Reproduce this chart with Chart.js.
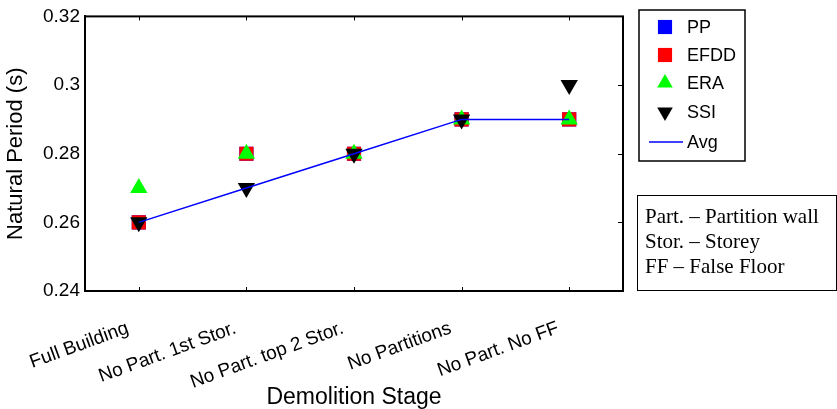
<!DOCTYPE html>
<html>
<head>
<meta charset="utf-8">
<script src="https://cdn.jsdelivr.net/npm/chart.js@4/dist/chart.umd.min.js"></script>
<style>
  html, body { margin: 0; padding: 0; background: #fff; }
  #wrap { width: 837px; height: 409px; }
</style>
</head>
<body>
<div id="wrap"><canvas id="chart" width="837" height="409"></canvas></div>
<script>
const stages = ["Full Building", "No Part. 1st Stor.", "No Part. top 2 Stor.", "No Partitions", "No Part. No FF"];
const ppValues = [0.26, 0.28, 0.28, 0.29, 0.29];
const efddValues = [0.26, 0.28, 0.28, 0.29, 0.29];
const eraValues = [0.27, 0.28, 0.28, 0.29, 0.29];
const ssiValues = [0.26, 0.27, 0.28, 0.29, 0.30];
const avgValues = [0.26, 0.27, 0.28, 0.29, 0.29];
const notes = ["Part. \u2013 Partition wall", "Stor. \u2013 Storey", "FF \u2013 False Floor"];

const sans = 'Arial, "Liberation Sans", sans-serif';
const serif = '"Times New Roman", "Liberation Serif", serif';

const markerSet = (label, data, color, style, rotation, order) => ({
  label,
  data,
  showLine: false,
  pointStyle: style,
  pointRotation: rotation,
  pointRadius: 10,
  pointBackgroundColor: color,
  pointBorderWidth: 0,
  borderColor: color,
  backgroundColor: color,
  order,
});

// box around the plot, inward ticks, legend and note box
const framePlugin = {
  id: "frame",
  afterDraw(chart) {
    const { ctx, chartArea: a, scales } = chart;
    ctx.save();
    ctx.strokeStyle = "#000";
    ctx.lineWidth = 2;
    ctx.strokeRect(a.left, a.top, a.right - a.left, a.bottom - a.top);

    ctx.lineWidth = 1;
    ctx.beginPath();
    stages.forEach((s, i) => {
      const x = Math.round(scales.x.getPixelForValue(i)) + 0.5;
      ctx.moveTo(x, a.bottom);
      ctx.lineTo(x, a.bottom - 4);
      ctx.moveTo(x, a.top);
      ctx.lineTo(x, a.top + 4);
    });
    scales.y.ticks.forEach((t) => {
      const y = Math.round(scales.y.getPixelForValue(t.value)) + 0.5;
      ctx.moveTo(a.right, y);
      ctx.lineTo(a.right - 5, y);
    });
    ctx.stroke();

    // legend
    const lx = 639, ly = 10, lw = 106, lh = 151;
    ctx.lineWidth = 1.5;
    ctx.strokeRect(lx, ly, lw, lh);
    ctx.font = "18px " + sans;
    ctx.textBaseline = "middle";
    ctx.textAlign = "left";
    const rows = [27, 55, 83, 112, 142];
    chart.data.datasets.forEach((ds, i) => {
      const y = rows[i];
      if (ds.showLine === false) {
        ctx.fillStyle = ds.pointBackgroundColor;
        Chart.helpers.drawPoint(ctx, {
          pointStyle: ds.pointStyle,
          rotation: ds.pointRotation,
          radius: ds.pointStyle === "rect" ? 10 : 9,
          borderWidth: 0,
        }, 665, y);
      } else {
        ctx.strokeStyle = ds.borderColor;
        ctx.lineWidth = 1.5;
        ctx.beginPath();
        ctx.moveTo(649, y);
        ctx.lineTo(683, y);
        ctx.stroke();
      }
      ctx.fillStyle = "#000";
      ctx.fillText(ds.label, 687, y + 1);
    });

    // abbreviation note
    ctx.strokeStyle = "#000";
    ctx.lineWidth = 1;
    ctx.strokeRect(637.5, 195.5, 199, 95);
    ctx.font = "21px " + serif;
    ctx.textBaseline = "alphabetic";
    ctx.fillStyle = "#000";
    notes.forEach((n, i) => ctx.fillText(n, 645, 223 + i * 25));
    ctx.restore();
  },
};

new Chart(document.getElementById("chart"), {
  type: "line",
  data: {
    labels: stages,
    datasets: [
      markerSet("PP", ppValues, "#0000ff", "rect", 0, 5),
      markerSet("EFDD", efddValues, "#ff0000", "rect", 0, 4),
      markerSet("ERA", eraValues, "#00ff00", "triangle", 0, 3),
      markerSet("SSI", ssiValues, "#000000", "triangle", 180, 2),
      {
        label: "Avg",
        data: avgValues,
        borderColor: "#0000ff",
        backgroundColor: "#0000ff",
        borderWidth: 1.5,
        pointRadius: 0,
        tension: 0,
        order: 1,
      },
    ],
  },
  options: {
    responsive: false,
    animation: false,
    layout: { padding: { left: 0, top: 11, right: 214, bottom: 0 } },
    plugins: { legend: { display: false }, tooltip: { enabled: false } },
    scales: {
      x: {
        offset: true,
        grid: { display: false, drawTicks: false },
        border: { display: true, color: "#000", width: 2 },
        ticks: {
          autoSkip: false,
          minRotation: 20,
          maxRotation: 20,
          labelOffset: -11,
          padding: 26,
          color: "#000",
          font: { family: sans, size: 19 },
        },
        title: {
          display: true,
          text: "Demolition Stage",
          color: "#000",
          font: { family: sans, size: 23, lineHeight: 1 },
          padding: 0,
        },
        afterFit: (s) => { s.height = 118; },
      },
      y: {
        min: 0.24,
        max: 0.32,
        grid: { display: false, drawTicks: false },
        border: { display: true, color: "#000", width: 2 },
        ticks: {
          stepSize: 0.02,
          padding: 5,
          color: "#000",
          font: { family: sans, size: 19 },
          callback: (v) => String(Number(v.toFixed(2))),
        },
        title: {
          display: true,
          text: "Natural Period (s)",
          color: "#000",
          font: { family: sans, size: 22, lineHeight: 1 },
          padding: { top: 5, bottom: 0 },
        },
        afterFit: (s) => { s.width = 85; },
      },
    },
  },
  plugins: [framePlugin],
});
</script>
</body>
</html>
